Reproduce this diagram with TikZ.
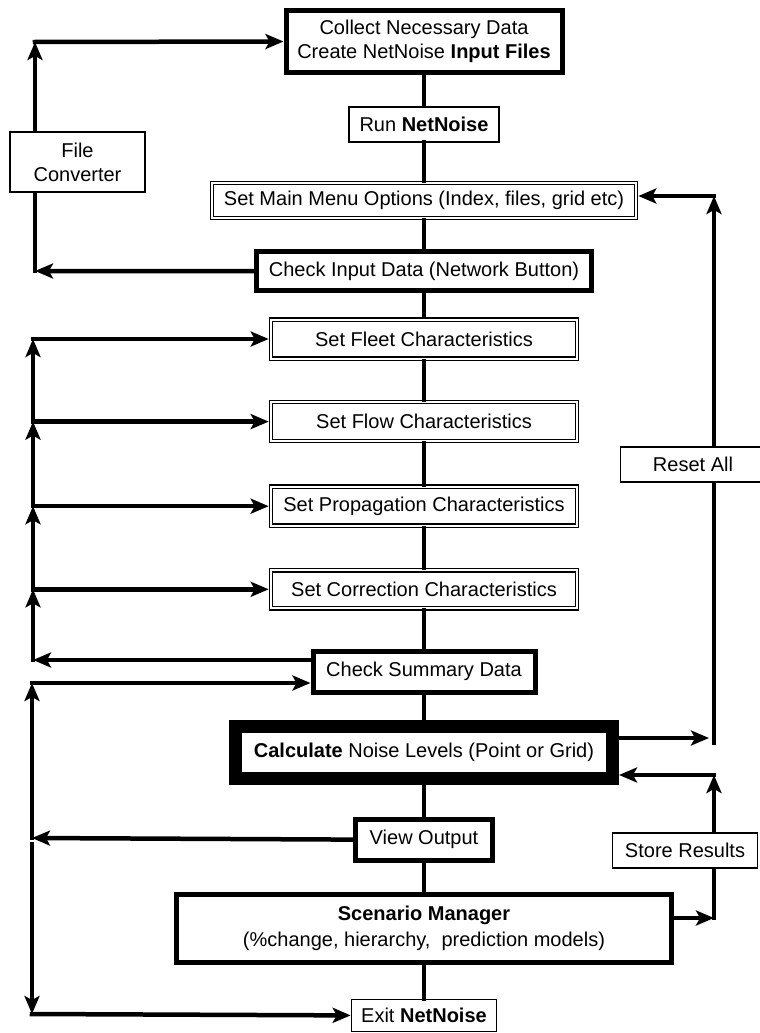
\documentclass[tikz,border=0pt]{standalone}
\usepackage{fontspec}
\setmainfont{Liberation Sans}
\usepackage{tikz}
\usetikzlibrary{arrows.meta,positioning}

\newcommand{\nnfont}{\fontsize{20}{24}\selectfont}

\begin{document}
\begin{tikzpicture}[x=1pt, y=1pt, node distance=30pt, every node/.style={font=\nnfont}]
    \tikzstyle{box} = [rectangle, draw=black, fill=white, align=center, inner sep=2pt]
    \tikzstyle{thinbox} = [box, line width=1.6pt]
    \tikzstyle{heavybox} = [box, line width=5pt]
    \tikzstyle{dblbox} = [box, line width=1.3pt, double=white, double distance=2pt, outer sep=2.3pt]
    \tikzstyle{link} = [-{Stealth[length=18pt, width=15pt, inset=4pt]}, line width=4.5pt, line cap=rect]
    \tikzstyle{plain} = [line width=4.5pt, line cap=rect]

    \useasboundingbox (0,0) rectangle (760,-1033);

    % main column
    \node (collect) [heavybox, minimum width=276pt, minimum height=62pt] at (424,-41.5)
        {Collect Necessary Data\\Create NetNoise \textbf{Input Files}};
    \node (run) [thinbox, minimum width=150pt, minimum height=35pt, below=31pt of collect] {Run \textbf{NetNoise}};
    \node (main) [dblbox, minimum width=424pt, minimum height=35pt, below=38pt of run]
        {Set Main Menu Options (Index, files, grid etc)};
    \node (check) [heavybox, minimum width=335pt, minimum height=39pt, below=29pt of main]
        {Check Input Data (Network Button)};
    \node (fleet) [dblbox, minimum width=306pt, minimum height=39pt, below=24pt of check] {Set Fleet Characteristics};
    \node (flow) [dblbox, minimum width=306pt, minimum height=39pt, below=39pt of fleet] {Set Flow Characteristics};
    \node (prop) [dblbox, minimum width=306pt, minimum height=39pt, below=41pt of flow] {Set Propagation Characteristics};
    \node (corr) [dblbox, minimum width=306pt, minimum height=38pt, below=40pt of prop] {Set Correction Characteristics};
    \node (summary) [heavybox, minimum width=222pt, minimum height=41pt, below=38pt of corr] {Check Summary Data};
    \node (calc) [box, line width=13pt, minimum width=377pt, minimum height=52pt, below=25pt of summary]
        {\textbf{Calculate} Noise Levels (Point or Grid)};
    \node (view) [heavybox, minimum width=137pt, minimum height=41pt, below=32pt of calc] {View Output};
    \node (scen) [heavybox, minimum width=495pt, minimum height=68pt, below=29pt of view]
        {\textbf{Scenario Manager}\\[2pt](\%change, hierarchy,\ \ prediction models)};
    \node (exit) [thinbox, minimum width=145pt, minimum height=32pt, below=34pt of scen] {Exit \textbf{NetNoise}};

    % side boxes
    \node (fileconv) [thinbox, minimum width=135pt, minimum height=60pt] at (77.5,-162) {File\\Converter};
    \node (reset) [thinbox, minimum width=145pt, minimum height=35pt] at (693,-464.5) {Reset All};
    \node (store) [thinbox, minimum width=145pt, minimum height=35pt] at (685,-850.5) {Store Results};

    % corners
    \coordinate (ca) at (35,-42);
    \coordinate (cb) at (35,-271);
    \coordinate (ka) at (33,-660);
    \coordinate (kb) at (32,-683);
    \coordinate (kc) at (32,-838);
    \coordinate (kd) at (32,-1014);
    \coordinate (ra) at (714,-738);
    \coordinate (rb) at (714,-196);
    \coordinate (sa) at (714,-918);
    \coordinate (sb) at (714,-775);

    % spine
    \draw [plain] (collect) -- (run);
    \draw [plain] (run) -- (main);
    \draw [plain] (main) -- (check);
    \draw [plain] (check) -- (fleet);
    \draw [plain] (fleet) -- (flow);
    \draw [plain] (flow) -- (prop);
    \draw [plain] (prop) -- (corr);
    \draw [plain] (corr) -- (summary);
    \draw [plain] (summary) -- (calc);
    \draw [plain] (calc) -- (view);
    \draw [plain] (view) -- (scen);
    \draw [plain] (scen) -- (exit);

    % file converter loop
    \draw [link] (check.west) -- (cb);
    \draw [plain] (cb) -- (cb |- fileconv.south);
    \draw [link] (ca |- fileconv.north) -- (ca);
    \draw [link] (ca) -- (collect.west);

    % characteristics loop
    \draw [link] (summary.west |- ka) -- (ka);
    \draw [link] (ka) -- (ka |- corr.west);
    \draw [link] (ka |- corr.west) -- (corr.west);
    \draw [link] (ka |- corr.west) -- (ka |- prop.west);
    \draw [link] (ka |- prop.west) -- (prop.west);
    \draw [link] (ka |- prop.west) -- (ka |- flow.west);
    \draw [link] (ka |- flow.west) -- (flow.west);
    \draw [link] (ka |- flow.west) -- (ka |- fleet.west);
    \draw [link] (ka |- fleet.west) -- (fleet.west);

    % output loop
    \draw [link] (view.west) -- (kc);
    \draw [link] (kc) -- (kb);
    \draw [link] (kb) -- (summary.west |- kb);
    \draw [link] ([yshift=-6pt]kc) -- (kd);
    \draw [link] (kd) -- (exit.west);

    % reset and store
    \draw [link] (calc.east |- ra) -- ([xshift=-5pt]ra);
    \draw [plain] ([yshift=-5pt]ra) -- (ra |- reset.south);
    \draw [link] (ra |- reset.north) -- (rb);
    \draw [link] (rb) -- (main.east |- rb);
    \draw [link] (scen.east |- sa) -- (sa);
    \draw [plain] (sa) -- (sa |- store.south);
    \draw [link] (sa |- store.north) -- (sb);
    \draw [link] (sb) -- (calc.east |- sb);
\end{tikzpicture}
\end{document}
